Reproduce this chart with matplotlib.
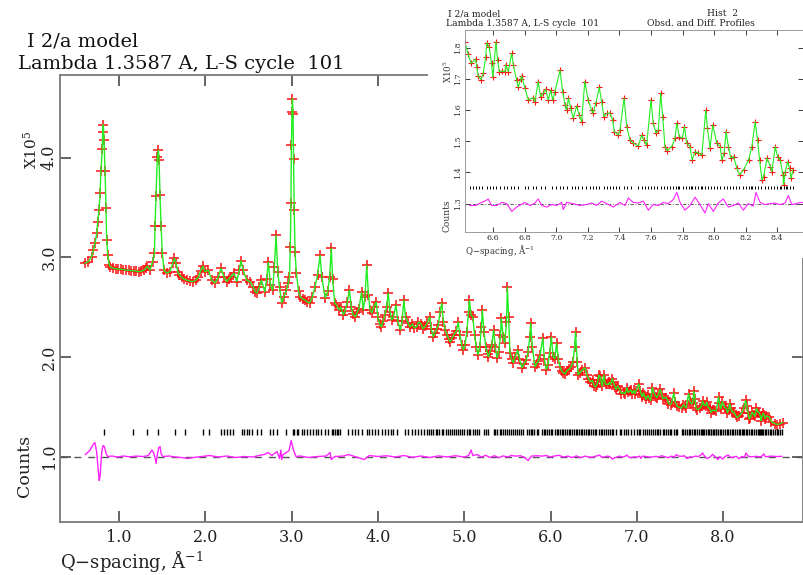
import matplotlib
matplotlib.use('Agg')
import matplotlib.pyplot as plt
from matplotlib.patches import Rectangle
import numpy as np

plt.rcParams['font.family'] = ['DejaVu Serif', 'DejaVu Sans']
plt.rcParams['mathtext.fontset'] = 'dejavuserif'

# ---------------- data ----------------
# observed profile, low-Q part (0.6 - 3.5)
q_obs_low = [0.606, 0.644, 0.683, 0.702, 0.722, 0.742, 0.753, 0.768, 0.780, 0.790,
             0.806, 0.811, 0.818, 0.826, 0.838, 0.849, 0.857, 0.869, 0.888, 0.90,
             0.93, 0.96, 0.99, 1.02, 1.05, 1.08, 1.11, 1.14, 1.17, 1.20,
             1.23, 1.26, 1.29, 1.31, 1.328, 1.359, 1.390, 1.410, 1.417, 1.429,
             1.444, 1.456, 1.464, 1.475, 1.487, 1.502, 1.521, 1.553, 1.591, 1.622,
             1.641, 1.660, 1.680, 1.70, 1.726, 1.75, 1.784, 1.82, 1.860, 1.89,
             1.919, 1.945, 1.970, 1.997, 2.035, 2.074, 2.112, 2.151, 2.182, 2.217,
             2.248, 2.270, 2.294, 2.333, 2.364, 2.394, 2.414, 2.440, 2.480, 2.517,
             2.556, 2.58, 2.60, 2.625, 2.65, 2.69, 2.71, 2.73, 2.755, 2.78,
             2.80, 2.82, 2.84, 2.86, 2.885, 2.91, 2.94, 2.96, 2.975, 2.985,
             2.992, 2.998, 3.004, 3.010, 3.016, 3.022, 3.030, 3.040, 3.055, 3.08,
             3.10, 3.13, 3.155, 3.18, 3.21, 3.24, 3.27, 3.30, 3.33, 3.35,
             3.39, 3.42, 3.44, 3.46, 3.475]
i_obs_low = [2.94, 2.955, 3.005, 3.07, 3.14, 3.24, 3.356, 3.47, 3.64, 3.86,
             4.09, 4.26, 4.33, 4.18, 3.86, 3.49, 3.17, 3.02, 2.92, 2.90,
             2.89, 2.885, 2.88, 2.88, 2.875, 2.87, 2.87, 2.865, 2.865, 2.86,
             2.855, 2.86, 2.87, 2.89, 2.91, 2.87, 2.955, 3.04, 3.31, 3.61,
             4.01, 4.075, 3.975, 3.62, 3.31, 3.04, 2.87, 2.84, 2.855, 2.94,
             2.99, 2.94, 2.855, 2.82, 2.80, 2.78, 2.77, 2.76, 2.755, 2.77,
             2.80, 2.86, 2.91, 2.855, 2.87, 2.77, 2.74, 2.80, 2.89, 2.80,
             2.755, 2.78, 2.80, 2.84, 2.755, 2.87, 2.965, 2.87, 2.77, 2.755,
             2.70, 2.65, 2.64, 2.70, 2.77, 2.65, 2.78, 2.95, 2.72, 2.67,
             2.90, 3.22, 2.85, 2.70, 2.54, 2.60, 2.67, 2.74, 2.80, 3.10,
             3.54, 4.13, 4.46, 4.59, 4.44, 3.99, 3.47, 3.05, 2.84, 2.66,
             2.60, 2.58, 2.57, 2.55, 2.54, 2.60, 2.70, 2.82, 3.02, 2.80,
             2.59, 2.66, 2.80, 3.09, 2.78]

# observed profile, middle part (3.5 - 6.46)
q_obs_mid = [3.50, 3.52, 3.55, 3.57, 3.60, 3.62, 3.645, 3.67, 3.69, 3.71,
             3.74, 3.76, 3.78, 3.81, 3.83, 3.85, 3.87, 3.89, 3.91, 3.93,
             3.95, 3.98, 4.00, 4.02, 4.04, 4.06, 4.08, 4.10, 4.12, 4.14,
             4.16, 4.18, 4.21, 4.23, 4.26, 4.28, 4.30, 4.32, 4.35, 4.37,
             4.40, 4.42, 4.45, 4.47, 4.50, 4.52, 4.55, 4.57, 4.60, 4.62,
             4.64, 4.66, 4.68, 4.70, 4.72, 4.74, 4.76, 4.78, 4.80, 4.82,
             4.84, 4.86, 4.88, 4.91, 4.93, 4.95, 4.97, 4.99, 5.01, 5.03,
             5.05, 5.06, 5.08, 5.10, 5.12, 5.14, 5.16, 5.18, 5.20, 5.21,
             5.23, 5.25, 5.27, 5.28, 5.30, 5.32, 5.34, 5.36, 5.38, 5.40,
             5.42, 5.43, 5.45, 5.47, 5.49, 5.50, 5.515, 5.53, 5.55, 5.57,
             5.59, 5.62, 5.64, 5.67, 5.69, 5.72, 5.74, 5.76, 5.77, 5.79,
             5.82, 5.84, 5.86, 5.88, 5.91, 5.93, 5.95, 5.97, 5.99, 6.01,
             6.03, 6.05, 6.07, 6.09, 6.11, 6.13, 6.15, 6.17, 6.19, 6.22,
             6.24, 6.26, 6.28, 6.29, 6.31, 6.32, 6.34, 6.37, 6.40, 6.42,
             6.44, 6.46]
i_obs_mid = [2.54, 2.52, 2.47, 2.50, 2.42, 2.46, 2.55, 2.67, 2.50, 2.43,
             2.40, 2.45, 2.48, 2.65, 2.47, 2.60, 2.92, 2.62, 2.47, 2.44,
             2.50, 2.55, 2.40, 2.33, 2.30, 2.36, 2.42, 2.50, 2.64, 2.45,
             2.37, 2.40, 2.52, 2.36, 2.27, 2.36, 2.57, 2.40, 2.34, 2.30,
             2.33, 2.29, 2.30, 2.35, 2.33, 2.28, 2.31, 2.34, 2.40, 2.28,
             2.20, 2.24, 2.28, 2.32, 2.45, 2.54, 2.35, 2.27, 2.22, 2.18,
             2.15, 2.19, 2.22, 2.26, 2.35, 2.22, 2.12, 2.07, 2.12, 2.25,
             2.45, 2.57, 2.42, 2.40, 2.22, 2.10, 2.02, 2.10, 2.30, 2.47,
             2.25, 2.10, 2.03, 2.00, 2.06, 2.12, 2.27, 2.10, 1.99, 2.05,
             2.22, 2.39, 2.20, 2.14, 2.35, 2.70, 2.40, 2.04, 1.98, 1.94,
             2.00, 2.07, 1.98, 1.89, 1.93, 1.97, 2.05, 2.20, 2.34, 2.10,
             1.90, 1.93, 1.96, 2.02, 2.19, 1.98, 1.87, 1.92, 2.04, 2.20,
             2.00, 1.98, 2.14, 1.98, 1.90, 1.86, 1.84, 1.83, 1.86, 1.88,
             1.90, 1.95, 2.10, 2.25, 1.95, 1.82, 1.84, 1.87, 1.89, 1.82,
             1.78, 1.75]

q_obs_high = [6.488, 6.495, 6.505, 6.522, 6.537, 6.552, 6.559, 6.574, 6.589, 6.598,
              6.617, 6.628, 6.638, 6.653, 6.674, 6.680, 6.695, 6.717, 6.727, 6.748,
              6.758, 6.774, 6.780, 6.801, 6.822, 6.853, 6.864, 6.885, 6.900, 6.917,
              6.932, 6.949, 6.964, 6.977, 6.991, 7.023, 7.040, 7.055, 7.065, 7.076,
              7.091, 7.107, 7.129, 7.145, 7.160, 7.180, 7.202, 7.223, 7.233, 7.250,
              7.272, 7.287, 7.301, 7.323, 7.340, 7.357, 7.367, 7.393, 7.403, 7.429,
              7.446, 7.467, 7.488, 7.519, 7.541, 7.555, 7.572, 7.600, 7.614, 7.631,
              7.646, 7.661, 7.674, 7.688, 7.703, 7.731, 7.752, 7.763, 7.779, 7.798,
              7.812, 7.826, 7.847, 7.860, 7.879, 7.900, 7.922, 7.947, 7.957, 7.974,
              7.991, 8.017, 8.038, 8.049, 8.063, 8.076, 8.090, 8.106, 8.123, 8.144,
              8.161, 8.186, 8.218, 8.239, 8.260, 8.275, 8.288, 8.303, 8.313, 8.335,
              8.356, 8.366, 8.387, 8.402, 8.419, 8.436, 8.440, 8.451, 8.466, 8.478,
              8.487, 8.500, 8.53, 8.56, 8.60, 8.63, 8.66, 8.69]
i_obs_high = [1.763, 1.739, 1.710, 1.698, 1.718, 1.771, 1.816, 1.803, 1.750, 1.705,
              1.819, 1.760, 1.723, 1.725, 1.723, 1.745, 1.723, 1.782, 1.745, 1.696,
              1.673, 1.700, 1.709, 1.670, 1.632, 1.640, 1.627, 1.691, 1.643, 1.654,
              1.667, 1.632, 1.664, 1.632, 1.659, 1.728, 1.659, 1.616, 1.600, 1.638,
              1.606, 1.574, 1.613, 1.584, 1.563, 1.691, 1.632, 1.600, 1.590, 1.622,
              1.673, 1.627, 1.579, 1.590, 1.590, 1.568, 1.531, 1.520, 1.536, 1.638,
              1.547, 1.504, 1.494, 1.485, 1.520, 1.504, 1.488, 1.632, 1.558, 1.526,
              1.536, 1.654, 1.579, 1.483, 1.470, 1.483, 1.510, 1.558, 1.515, 1.510,
              1.547, 1.494, 1.483, 1.440, 1.467, 1.462, 1.456, 1.600, 1.542, 1.478,
              1.552, 1.494, 1.483, 1.440, 1.462, 1.531, 1.483, 1.446, 1.451, 1.413,
              1.392, 1.408, 1.440, 1.483, 1.563, 1.504, 1.440, 1.376, 1.387, 1.446,
              1.419, 1.403, 1.483, 1.451, 1.440, 1.392, 1.360, 1.403, 1.435, 1.413,
              1.381, 1.408, 1.40, 1.35, 1.33, 1.32, 1.33, 1.34]

q_diff = [0.61, 0.66, 0.70, 0.72, 0.74, 0.755, 0.77, 0.78, 0.79, 0.80,
          0.815, 0.83, 0.85, 0.87, 0.92, 0.98, 1.05, 1.12, 1.20, 1.28,
          1.34, 1.38, 1.40, 1.42, 1.43, 1.44, 1.46, 1.475, 1.49, 1.51,
          1.58, 1.65, 1.72, 1.80, 1.86, 1.95, 2.05, 2.15, 2.25, 2.35,
          2.45, 2.55, 2.62, 2.68, 2.73, 2.77, 2.80, 2.83, 2.86, 2.875,
          2.885, 2.90, 2.94, 2.97, 2.995, 3.02, 3.05, 3.10, 3.20, 3.30,
          3.40, 3.445, 3.46, 3.50, 3.60, 3.66, 3.75, 3.84, 3.90, 4.00,
          4.10, 4.20, 4.30, 4.40, 4.50, 4.60, 4.70, 4.80, 4.90, 5.00,
          5.05, 5.08, 5.10, 5.15, 5.20, 5.25, 5.30, 5.35, 5.40, 5.45,
          5.50, 5.55, 5.60, 5.65, 5.70, 5.74, 5.78, 5.85, 5.90, 5.95,
          6.00, 6.05, 6.10, 6.15, 6.20, 6.25, 6.30, 6.35, 6.40, 6.45,
          6.490, 6.516, 6.547, 6.568, 6.590, 6.622, 6.653, 6.685, 6.717, 6.748,
          6.800, 6.833, 6.864, 6.885, 6.907, 6.939, 6.970, 7.002, 7.034, 7.044,
          7.065, 7.107, 7.150, 7.192, 7.224, 7.255, 7.287, 7.319, 7.361, 7.403,
          7.435, 7.456, 7.487, 7.519, 7.551, 7.583, 7.614, 7.646, 7.678, 7.709,
          7.741, 7.763, 7.784, 7.815, 7.847, 7.879, 7.910, 7.942, 7.963, 7.995,
          8.026, 8.058, 8.090, 8.121, 8.153, 8.185, 8.216, 8.248, 8.265, 8.291,
          8.322, 8.354, 8.386, 8.417, 8.449, 8.470, 8.492, 8.55, 8.62, 8.68]

diff = [0.02, 0.06, 0.12, 0.14, 0.05, -0.10, -0.24, -0.20, -0.08, 0.05,
        0.11, 0.10, 0.03, 0.0, 0.005, -0.005, 0.005, -0.003, 0.004, 0.0,
        0.01, 0.065, 0.04, -0.02, -0.07, 0.0, 0.09, 0.10, 0.02, 0.0,
        0.005, -0.005, -0.01, -0.02, -0.01, 0.0, 0.01, -0.005, 0.005, -0.01,
        0.0, -0.005, 0.01, 0.02, 0.04, 0.01, 0.03, 0.05, -0.02, 0.065,
        -0.03, 0.02, 0.04, 0.06, 0.16, 0.07, 0.0, 0.005, -0.01, 0.0,
        0.005, 0.04, -0.03, 0.0, 0.005, 0.02, -0.005, -0.03, 0.01, 0.0,
        0.008, -0.005, 0.01, -0.008, 0.005, -0.01, 0.006, -0.004, 0.008, -0.006,
        0.01, 0.065, 0.01, 0.02, -0.005, 0.012, -0.01, 0.008, -0.012, 0.006,
        -0.004, 0.01, 0.004, 0.008, -0.01, -0.04, 0.005, 0.008, 0.004, 0.01,
        -0.004, 0.006, 0.012, -0.006, 0.004, -0.01, 0.006, -0.012, 0.004, -0.006,
        -0.006, 0.002, 0.008, 0.015, -0.006, -0.006, 0.004, 0.0, -0.025, -0.011,
        0.004, -0.006, 0.002, 0.015, -0.006, -0.011, -0.003, -0.006, 0.004, -0.019,
        0.004, 0.0, -0.006, -0.003, 0.002, -0.006, 0.008, 0.0, -0.011, 0.004,
        -0.006, 0.018, 0.004, 0.002, 0.008, -0.021, -0.003, -0.006, 0.004, 0.0,
        0.013, 0.036, 0.004, -0.021, -0.006, 0.021, -0.003, -0.030, 0.0, -0.025,
        0.002, 0.015, -0.011, -0.006, 0.002, -0.021, 0.0, -0.008, 0.036, 0.004,
        -0.003, 0.0, 0.002, -0.003, 0.002, 0.026, -0.003, 0.004, 0.0, 0.002]

refl_q = [0.826, 1.166, 1.321, 1.456, 1.649, 1.765, 1.977, 2.047, 2.182, 2.217,
          2.248, 2.286, 2.325, 2.422, 2.448, 2.480, 2.510, 2.538, 2.596, 2.642,
          2.750, 2.780, 2.827, 2.935, 3.012, 3.028, 3.059, 3.078, 3.117, 3.144,
          3.182, 3.213, 3.244, 3.283, 3.310, 3.337, 3.387, 3.426, 3.465, 3.483,
          3.503, 3.523, 3.541, 3.561, 3.657, 3.696, 3.735, 3.773, 3.812, 3.870,
          3.900, 3.928, 3.966, 4.005, 4.044, 4.082, 4.120, 4.148, 4.178, 4.218,
          4.314, 4.352, 4.391, 4.430, 4.468,
          4.50, 4.53, 4.57, 4.59, 4.62, 4.64, 4.67, 4.69, 4.71, 4.74,
          4.76, 4.79, 4.81, 4.83, 4.86, 4.88, 4.91, 4.93, 4.95, 4.98,
          5.00, 5.03, 5.05, 5.07, 5.10, 5.12, 5.15, 5.17, 5.23, 5.25,
          5.28, 5.34, 5.36, 5.38, 5.41, 5.43, 5.45, 5.47, 5.50, 5.52,
          5.54, 5.56, 5.59, 5.61, 5.63, 5.66, 5.68, 5.73, 5.75, 5.77,
          5.79, 5.81, 5.84, 5.86, 5.90, 5.92, 5.94, 5.96, 5.98, 6.00,
          6.02, 6.05, 6.07, 6.09, 6.11, 6.13, 6.15, 6.17, 6.19, 6.21,
          6.23, 6.25, 6.27, 6.29, 6.31, 6.33, 6.35, 6.37, 6.39, 6.41,
          6.43, 6.45, 6.47,
          6.49, 6.51, 6.53, 6.56, 6.58, 6.60, 6.62, 6.64, 6.67, 6.69,
          6.71, 6.73, 6.76, 6.80, 6.82, 6.85, 6.87, 6.90, 6.93, 6.97,
          7.00, 7.02, 7.04, 7.07, 7.10, 7.12, 7.14, 7.16, 7.19, 7.21,
          7.23, 7.25, 7.27, 7.30, 7.32, 7.34, 7.36, 7.38, 7.40, 7.43,
          7.45, 7.47, 7.52, 7.54, 7.56, 7.58, 7.60, 7.62, 7.64, 7.66,
          7.68, 7.70, 7.72, 7.74, 7.76, 7.771, 7.78, 7.80, 7.82, 7.84,
          7.855, 7.86, 7.88, 7.90, 7.915, 7.92, 7.94, 7.96, 7.98, 8.00,
          8.02, 8.04, 8.06, 8.08, 8.10, 8.12, 8.14, 8.16, 8.18, 8.20,
          8.22, 8.235, 8.24, 8.26, 8.28, 8.30, 8.32, 8.34, 8.36, 8.38,
          8.40, 8.42, 8.425, 8.44, 8.455, 8.46, 8.48, 8.50, 8.52, 8.54,
          8.56, 8.58, 8.60, 8.62, 8.64, 8.66, 8.68]

main_xticks = [1.0, 2.0, 3.0, 4.0, 5.0, 6.0, 7.0, 8.0]
main_yticks = [1.0, 2.0, 3.0, 4.0]
inset_xticks = [6.6, 6.8, 7.0, 7.2, 7.4, 7.6, 7.8, 8.0, 8.2, 8.4]
inset_yticks = [1.3, 1.4, 1.5, 1.6, 1.7, 1.8]

title1 = "I 2/a model"
title2 = "Lambda 1.3587 A, L-S cycle  101"
inset_hist = "Hist  2"
inset_sub = "Obsd. and Diff. Profiles"

# ---------------- figure ----------------
W, H = 804, 575
fig = plt.figure(figsize=(W / 100, H / 100), dpi=100)


def box(l, t, r, b):
    return [l / W, 1 - b / H, (r - l) / W, (b - t) / H]


def fx(px):
    return px / W


def fy(py):
    return 1 - py / H


q = np.array(q_obs_low + q_obs_mid + q_obs_high)
yo = np.array(i_obs_low + i_obs_mid + i_obs_high)
yc = yo.copy()   # calculated curve coincides with observed at this resolution
qd = np.array(q_diff)
dd = np.array(diff)
rq = np.array(refl_q)

RED = '#ff1010'
GREEN = '#22ee22'
MAG = '#ff22ff'
SPINE = '#7a7a7a'
TICK = '#3a3a3a'

# ---- main axes ----
ax = fig.add_axes(box(60, 75, 803, 522))
ax.set_zorder(1)
ax.plot(q, yo, ls='none', marker='+', ms=7, mew=1.1, color=RED)
ax.plot(q, yc, color=GREEN, lw=1.0)
ax.axhline(1.0, color='#555555', lw=1.0, dashes=(5, 5))
ax.plot(qd, 1.0 + dd, color=MAG, lw=1.0)
ax.vlines(rq, 1.215, 1.275, color='black', lw=1.0)

ax.set_xlim(0.316, 8.926)
ax.set_ylim(0.343, 4.828)
ax.set_xticks(main_xticks)
ax.set_xticklabels([f"{v:.1f}" for v in main_xticks])
ax.set_yticks(main_yticks)
ax.set_yticklabels([f"{v:.1f}" for v in main_yticks])
ax.tick_params(direction='in', length=8, width=1.1, color=TICK,
               top=True, right=True, labelsize=11.5, labelcolor='#222222')
ax.tick_params(axis='x', pad=5)
ax.tick_params(axis='y', pad=1.5)
for t in ax.get_yticklabels():
    t.set_rotation(90)
    t.set_va('center')
for s in ax.spines.values():
    s.set_color(SPINE)
    s.set_linewidth(1.3)

fig.text(fx(27), fy(42), title1, fontsize=14, ha='left', va='center', color='#111111')
fig.text(fx(18), fy(64), title2, fontsize=14, ha='left', va='center', color='#111111')
fig.text(fx(31), fy(150), r"X10$^{5}$", fontsize=11, rotation=90,
         ha='center', va='center', color='#222222')
fig.text(fx(25), fy(466), "Counts", fontsize=12.5, rotation=90,
         ha='center', va='center', color='#222222')
fig.text(fx(60), fy(561), "Q\u2212spacing, Å$^{-1}$", fontsize=13, ha='left',
         va='center', color='#222222')

# ---- white area behind inset ----
fig.add_artist(Rectangle((fx(428), fy(258)), (804 - 428) / W, 258 / H,
                         transform=fig.transFigure, facecolor='white',
                         edgecolor='none', zorder=2))

# ---- inset ----
axi = fig.add_axes(box(465, 30, 803, 232))
axi.set_zorder(3)
m = q <= 8.505
axi.plot(q[m], yo[m], ls='none', marker='+', ms=4, mew=0.8, color=RED)
axi.plot(q[m], yc[m], color=GREEN, lw=0.8)
axi.axhline(1.3, color='#444444', lw=0.6, dashes=(4, 2, 1, 2))
md = qd >= 6.45
axi.plot(qd[md], 1.3 + dd[md], color=MAG, lw=0.8)
mr = (rq >= 6.45) & (rq <= 8.505)
axi.vlines(rq[mr], 1.347, 1.358, color='black', lw=0.7)

axi.set_xlim(6.421, 8.563)
axi.set_ylim(1.209, 1.857)
axi.set_xticks(inset_xticks)
axi.set_xticklabels([f"{v:.1f}" for v in inset_xticks])
axi.set_yticks(inset_yticks)
axi.set_yticklabels([f"{v:.1f}" for v in inset_yticks])
axi.tick_params(direction='in', length=3.5, width=0.7, color=TICK,
                top=True, right=True, labelsize=5.8, labelcolor='#333333')
axi.tick_params(axis='x', pad=1.5)
axi.tick_params(axis='y', pad=2)
for t in axi.get_yticklabels():
    t.set_rotation(90)
    t.set_va('center')
for s in axi.spines.values():
    s.set_color('#9a9a9a')
    s.set_linewidth(0.7)

fig.text(fx(448), fy(14), title1, fontsize=6.6, ha='left', va='center', color='#222222', zorder=4)
fig.text(fx(446), fy(24), title2, fontsize=6.6, ha='left', va='center', color='#222222', zorder=4)
fig.text(fx(707), fy(14), inset_hist, fontsize=6.6, ha='left', va='center', color='#222222', zorder=4)
fig.text(fx(647), fy(24), inset_sub, fontsize=6.6, ha='left', va='center', color='#222222', zorder=4)
fig.text(fx(448), fy(72), r"X10$^{5}$", fontsize=6.2, rotation=90,
         ha='center', va='center', color='#333333', zorder=4)
fig.text(fx(447), fy(216), "Counts", fontsize=6.5, rotation=90,
         ha='center', va='center', color='#333333', zorder=4)
fig.text(fx(465), fy(251), "Q\u2212spacing, Å$^{-1}$", fontsize=6.2, ha='left',
         va='center', color='#333333', zorder=4)

fig.savefig('out.png', dpi=100, facecolor='white')
